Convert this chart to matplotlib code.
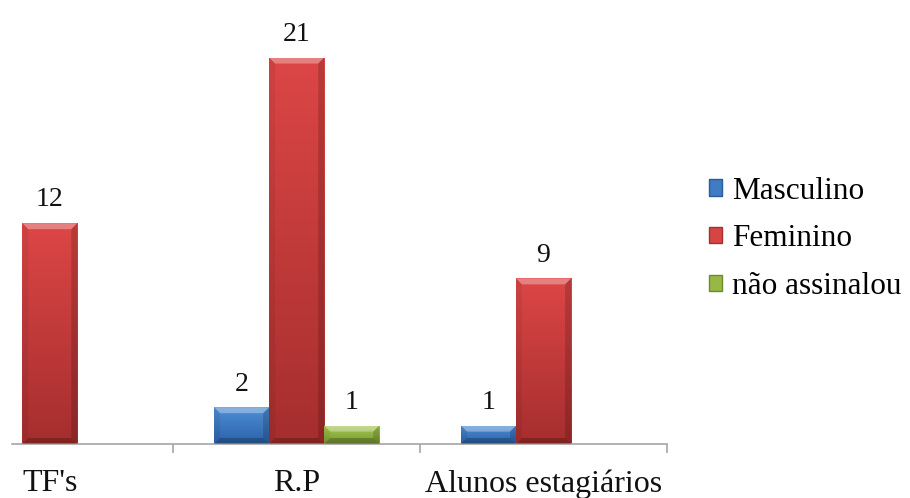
import matplotlib
matplotlib.use('Agg')
import matplotlib.pyplot as plt
from matplotlib.patches import Polygon, Patch
from matplotlib import font_manager
from matplotlib.font_manager import FontProperties
import numpy as np

# Times-like face for all texts, loaded straight from its file
serif_files = [f.fname for f in font_manager.fontManager.ttflist
               if f.name in ('Liberation Serif', 'Tinos') and f.style == 'normal' and f.weight == 400]
serif_file = serif_files[0] if serif_files else font_manager.findfont('serif')


def serif(size):
    return FontProperties(fname=serif_file, size=size)


categories = ["TF's", "R.P", "Alunos estagiários"]
series = ["Masculino", "Feminino", "não assinalou"]
masculino = [0, 2, 1]
feminino = [12, 21, 9]
nao_assinalou = [0, 1, 0]
values = [masculino, feminino, nao_assinalou]

# top / bottom shade of each series, bars fade from one to the other
top_rgb = [(78, 142, 214), (220, 70, 70), (168, 202, 84)]
bot_rgb = [(44, 98, 168), (166, 46, 46), (118, 152, 48)]
legend_colors = ['#3F7CC4', '#D64444', '#98B845']
legend_edges = ['#2A5C98', '#A63030', '#6F8A2A']

W, H = 910, 498
fig = plt.figure(figsize=(W / 100, H / 100), dpi=100)
ax_l, ax_r, ax_b, ax_t = 12, 667, 444, 20
ax = fig.add_axes([ax_l / W, 1 - ax_b / H, (ax_r - ax_l) / W, (ax_b - ax_t) / H])

xlim = (-0.153, 2.5)
ylim = (0, 23.04)
ax.set_xlim(*xlim)
ax.set_ylim(*ylim)

# pixel size of one data unit, for the bevel edges
px_x = (ax_r - ax_l) / (xlim[1] - xlim[0])
px_y = (ax_b - ax_t) / (ylim[1] - ylim[0])
bev = 6


def shade(rect, ci):
    x0, y0 = rect.get_x(), rect.get_y()
    x1, y1 = x0 + rect.get_width(), y0 + rect.get_height()
    t = np.linspace(1, 0, 64)[:, None]
    grad = np.array(top_rgb[ci]) * t + np.array(bot_rgb[ci]) * (1 - t)
    img = np.repeat(grad[:, None, :] / 255.0, 2, axis=1)
    im = ax.imshow(img, extent=(x0, x1, y0, y1), aspect='auto',
                   interpolation='bilinear', zorder=2.5, origin='upper')
    im.set_clip_path(rect)
    bx = bev / px_x
    by = min(bev / px_y, (y1 - y0) / 3)
    top = [(x0, y1), (x1, y1), (x1 - bx, y1 - by), (x0 + bx, y1 - by)]
    bot = [(x0, y0), (x1, y0), (x1 - bx, y0 + by), (x0 + bx, y0 + by)]
    left = [(x0, y0), (x0, y1), (x0 + bx, y1 - by), (x0 + bx, y0 + by)]
    right = [(x1, y0), (x1, y1), (x1 - bx, y1 - by), (x1 - bx, y0 + by)]
    for pts, c, a in [(left, 'black', 0.06), (right, 'black', 0.16),
                      (bot, 'black', 0.22), (top, 'white', 0.32)]:
        ax.add_patch(Polygon(pts, closed=True, facecolor=c, alpha=a,
                             edgecolor='none', zorder=3))


x = np.arange(len(categories))
bw = 0.223
for i, vals in enumerate(values):
    pos = x + (i - 1) * bw
    bars = ax.bar(pos, vals, width=bw, color=legend_colors[i], edgecolor='none', zorder=2)
    for rect, v in zip(bars, vals):
        if v == 0:
            continue
        shade(rect, i)
        ax.annotate(str(v), (rect.get_x() + rect.get_width() / 2, v),
                    xytext=(0, 12), textcoords='offset points',
                    ha='center', va='baseline', color='#111111',
                    fontproperties=serif(20))

ax.set_xlim(*xlim)
ax.set_ylim(*ylim)

for s in ['top', 'right', 'left']:
    ax.spines[s].set_visible(False)
ax.spines['bottom'].set_color('#A6A6A6')
ax.spines['bottom'].set_linewidth(1.2)
ax.set_yticks([])

ax.set_xticks([0.5, 1.5, 2.5])
ax.set_xticklabels([])
ax.tick_params(axis='x', which='major', length=6.5, color='#A6A6A6', width=1.2)
ax.set_xticks(x, minor=True)
ax.set_xticklabels(categories, minor=True, color='#111111', fontproperties=serif(23))
ax.tick_params(axis='x', which='minor', length=0, pad=18)

handles = [Patch(facecolor=c, edgecolor=d) for c, d in zip(legend_colors, legend_edges)]
fig.legend(handles, series, loc='center left', bbox_to_anchor=(709 / W, 1 - 239 / H),
           frameon=False, prop=serif(22.5),
           handlelength=0.42, handleheight=0.42,
           handletextpad=0.32, labelspacing=0.6, borderpad=0, borderaxespad=0)

fig.savefig('out.png', dpi=100)
